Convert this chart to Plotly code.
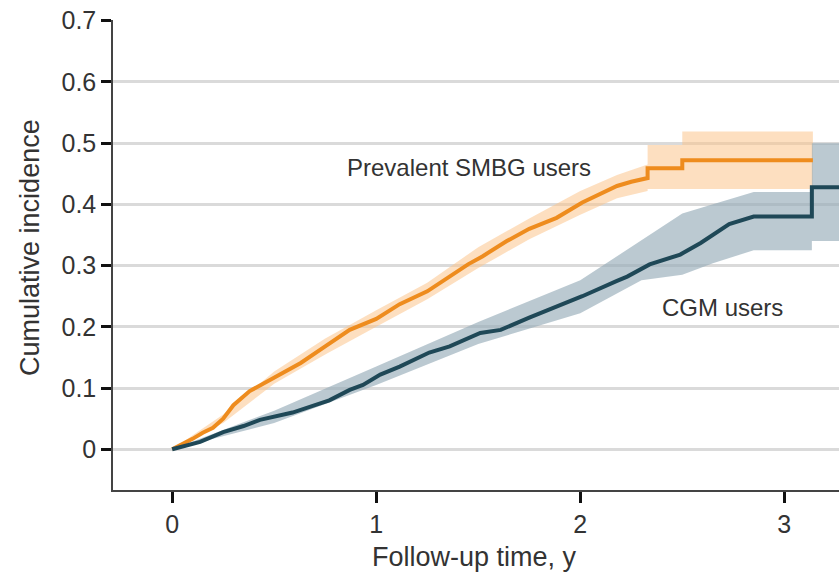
import plotly.graph_objects as go

# ---- data ----
smbg_t = [0, 0.05, 0.10, 0.15, 0.20, 0.25, 0.30, 0.38, 0.50, 0.63, 0.75, 0.87, 1.00, 1.115,
          1.25, 1.36, 1.45, 1.52, 1.64, 1.75, 1.884, 2.01, 2.10, 2.18, 2.25, 2.33, 2.33, 2.50, 2.50, 3.14]
smbg_v = [0, 0.008, 0.017, 0.027, 0.035, 0.050, 0.072, 0.095, 0.117, 0.141, 0.168, 0.195, 0.213, 0.237,
          0.258, 0.282, 0.302, 0.315, 0.340, 0.360, 0.378, 0.403, 0.418, 0.430, 0.437, 0.443, 0.459, 0.459, 0.472, 0.472]

smbg_ci_t = [0, 0.25, 0.50, 0.75, 1.00, 1.25, 1.50, 1.75, 2.00, 2.18, 2.33, 2.33, 2.50, 2.50, 3.14]
smbg_lo = [0, 0.043, 0.107, 0.155, 0.200, 0.245, 0.296, 0.343, 0.383, 0.410, 0.422, 0.425, 0.425, 0.425, 0.425]
smbg_hi = [0, 0.057, 0.127, 0.181, 0.227, 0.272, 0.330, 0.377, 0.422, 0.448, 0.465, 0.497, 0.497, 0.519, 0.519]

cgm_t = [0, 0.05, 0.137, 0.25, 0.35, 0.43, 0.59, 0.70, 0.77, 0.87, 0.935, 1.02, 1.115, 1.26,
         1.36, 1.51, 1.61, 1.75, 1.85, 2.01, 2.18, 2.23, 2.34, 2.49, 2.59, 2.68, 2.73, 2.85, 3.135, 3.135, 3.30]
cgm_v = [0, 0.004, 0.012, 0.028, 0.038, 0.048, 0.060, 0.072, 0.080, 0.097, 0.105, 0.122, 0.135, 0.158,
         0.168, 0.190, 0.195, 0.215, 0.228, 0.250, 0.275, 0.282, 0.302, 0.318, 0.337, 0.358, 0.368, 0.380, 0.380, 0.428, 0.428]

cgm_ci_t = [0, 0.50, 1.00, 1.50, 2.00, 2.30, 2.50, 2.65, 2.85, 3.135, 3.135, 3.30]
cgm_lo = [0, 0.043, 0.105, 0.172, 0.222, 0.276, 0.285, 0.304, 0.325, 0.325, 0.340, 0.340]
cgm_hi = [0, 0.063, 0.135, 0.208, 0.276, 0.342, 0.385, 0.400, 0.420, 0.420, 0.500, 0.500]

x_ticks = [0, 1, 2, 3]
y_ticks = [0, 0.1, 0.2, 0.3, 0.4, 0.5, 0.6, 0.7]
y_ticklabels = ["0", "0.1", "0.2", "0.3", "0.4", "0.5", "0.6", "0.7"]

ORANGE = "#EE8C1E"
ORANGE_BAND = "rgba(252,196,140,0.55)"
TEAL = "#1F4857"
TEAL_BAND = "rgba(150,172,184,0.65)"
FONT = "Liberation Sans"
TXT = "#333333"

fig = go.Figure()

# confidence bands
fig.add_trace(go.Scatter(x=smbg_ci_t, y=smbg_lo, mode="lines", line=dict(width=0),
                         hoverinfo="skip", showlegend=False))
fig.add_trace(go.Scatter(x=smbg_ci_t, y=smbg_hi, mode="lines", line=dict(width=0),
                         fill="tonexty", fillcolor=ORANGE_BAND, hoverinfo="skip", showlegend=False))
fig.add_trace(go.Scatter(x=cgm_ci_t, y=cgm_lo, mode="lines", line=dict(width=0),
                         hoverinfo="skip", showlegend=False))
fig.add_trace(go.Scatter(x=cgm_ci_t, y=cgm_hi, mode="lines", line=dict(width=0),
                         fill="tonexty", fillcolor=TEAL_BAND, hoverinfo="skip", showlegend=False))

# curves
fig.add_trace(go.Scatter(x=smbg_t, y=smbg_v, mode="lines", line=dict(color=ORANGE, width=4),
                         name="Prevalent SMBG users", showlegend=False))
fig.add_trace(go.Scatter(x=cgm_t, y=cgm_v, mode="lines", line=dict(color=TEAL, width=4),
                         name="CGM users", showlegend=False))

fig.add_annotation(x=0.847, y=0.461, xref="x", yref="y", text="Prevalent SMBG users",
                   showarrow=False, xanchor="left", yanchor="middle",
                   font=dict(family=FONT, size=24, color=TXT))
fig.add_annotation(x=2.39, y=0.231, xref="x", yref="y", text="CGM users",
                   showarrow=False, xanchor="left", yanchor="middle",
                   font=dict(family=FONT, size=24, color=TXT))

# axis titles
fig.add_annotation(x=0.498, y=0, xref="paper", yref="paper", yshift=-67, text="Follow-up time, y",
                   showarrow=False, xanchor="center", yanchor="middle",
                   font=dict(family=FONT, size=27, color=TXT))
fig.add_annotation(x=0, y=0.515, xref="paper", yref="paper", xshift=-83, text="Cumulative incidence",
                   textangle=-90, showarrow=False, xanchor="center", yanchor="middle",
                   font=dict(family=FONT, size=27, color=TXT))

fig.update_layout(
    width=839, height=577,
    margin=dict(l=113, r=0, t=20, b=87),
    paper_bgcolor="white", plot_bgcolor="white",
    font=dict(family=FONT, color=TXT),
    xaxis=dict(range=[-0.29, 3.268], tickvals=x_ticks, ticktext=[str(v) for v in x_ticks],
               showgrid=False, zeroline=False, showline=True, linecolor="#444444", linewidth=1.5,
               ticks="outside", ticklen=11, tickwidth=2.5, tickcolor="#111111",
               tickfont=dict(family=FONT, size=25, color=TXT)),
    yaxis=dict(range=[-0.0665, 0.7011], tickvals=y_ticks, ticktext=y_ticklabels,
               showgrid=True, gridcolor="#DADADA", gridwidth=3, zeroline=False,
               showline=True, linecolor="#444444", linewidth=1.5,
               ticks="outside", ticklen=10, tickwidth=2.5, tickcolor="#111111",
               tickfont=dict(family=FONT, size=25, color=TXT)),
)

fig.write_html("out.html")
